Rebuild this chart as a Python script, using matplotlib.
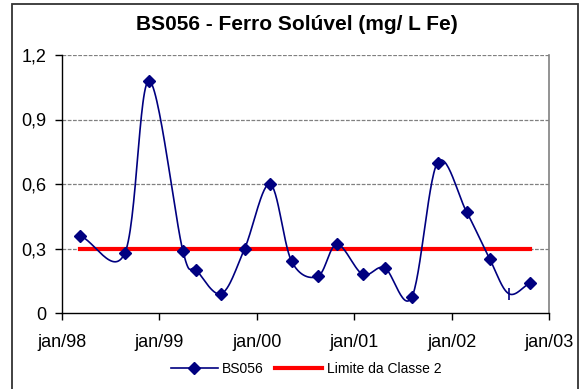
import numpy as np
import matplotlib
matplotlib.use("Agg")
import matplotlib.pyplot as plt
import matplotlib.dates as mdates
from matplotlib.patches import Rectangle
import datetime as dt

plt.rcParams['font.family'] = ['Liberation Sans', 'DejaVu Sans']

title = "BS056 - Ferro Solúvel (mg/ L Fe)"
series_name = "BS056"
limit_name = "Limite da Classe 2"

dates = ["1998-03-09", "1998-08-25", "1998-11-23", "1999-03-30", "1999-05-20",
         "1999-08-22", "1999-11-17", "2000-02-20", "2000-05-11", "2000-08-17",
         "2000-10-28", "2001-02-01", "2001-04-25", "2001-08-05", "2001-11-09",
         "2002-02-26", "2002-05-24", "2002-08-03", "2002-10-22"]
values = [0.36, 0.28, 1.08, 0.29, 0.20, 0.09, 0.30, 0.60, 0.24, 0.17,
          0.32, 0.18, 0.21, 0.075, 0.70, 0.47, 0.25, 0.09, 0.14]
limit_value = 0.3

year_ticks = ["1998-01-01", "1999-01-01", "2000-01-01", "2001-01-01", "2002-01-01", "2003-01-01"]
year_labels = ["jan/98", "jan/99", "jan/00", "jan/01", "jan/02", "jan/03"]
y_ticks = [0, 0.3, 0.6, 0.9, 1.2]
y_labels = ["0", "0,3", "0,6", "0,9", "1,2"]

def to_num(s):
    return mdates.date2num(dt.datetime.strptime(s, "%Y-%m-%d"))

xd = np.array([to_num(d) for d in dates])
yv = np.array(values, dtype=float)

def catmull_rom(x, y, n=30):
    px = np.concatenate([[2*x[0]-x[1]], x, [2*x[-1]-x[-2]]])
    py = np.concatenate([[2*y[0]-y[1]], y, [2*y[-1]-y[-2]]])
    outx, outy = [], []
    t = np.linspace(0, 1, n)
    for i in range(1, len(px)-2):
        p0x, p1x, p2x, p3x = px[i-1], px[i], px[i+1], px[i+2]
        p0y, p1y, p2y, p3y = py[i-1], py[i], py[i+1], py[i+2]
        c1x = p1x + (p2x - p0x)/6; c1y = p1y + (p2y - p0y)/6
        c2x = p2x - (p3x - p1x)/6; c2y = p2y - (p3y - p1y)/6
        bx = (1-t)**3*p1x + 3*(1-t)**2*t*c1x + 3*(1-t)*t**2*c2x + t**3*p2x
        by = (1-t)**3*p1y + 3*(1-t)**2*t*c1y + 3*(1-t)*t**2*c2y + t**3*p2y
        outx.append(bx); outy.append(by)
    return np.concatenate(outx), np.concatenate(outy)

sx, sy = catmull_rom(xd, yv)

fig = plt.figure(figsize=(5.81, 3.89), dpi=100)
ax = fig.add_axes([62/581, 1-313/389, (549-62)/581, (313-55)/389])

navy = "#000080"
ax.plot(sx, sy, color=navy, lw=1.2, zorder=3)
ax.plot(xd[:17], yv[:17], linestyle='none', marker='D', color=navy, ms=6.5, zorder=4)
ax.plot(xd[18:], yv[18:], linestyle='none', marker='D', color=navy, ms=6.5, zorder=4)
ax.plot(xd[17:18], yv[17:18], linestyle='none', marker='|', color=navy, ms=9, mew=1.2, zorder=4)
ax.plot([xd[0], xd[-1]], [limit_value, limit_value], color="#ff0000", lw=3, zorder=2)

# legend proxies
h1, = ax.plot([], [], color=navy, lw=1.2, marker='D', ms=6.5)
h2, = ax.plot([], [], color="#ff0000", lw=3)

ax.set_xlim(to_num(year_ticks[0]), to_num(year_ticks[-1]))
ax.set_ylim(0, 1.2)
ax.set_xticks([to_num(d) for d in year_ticks])
ax.set_xticklabels(year_labels)
ax.set_yticks(y_ticks)
ax.set_yticklabels(y_labels)
ax.tick_params(axis='both', labelsize=13, length=5, width=1, direction='out')
ax.tick_params(axis='y', pad=6)
ax.tick_params(axis='x', pad=10)

for v in y_ticks[1:]:
    ax.axhline(v, color="#808080", lw=0.9, ls=(0, (3, 1.2)), zorder=1)

ax.spines['top'].set_visible(False)
ax.spines['right'].set_color("#808080")
ax.spines['right'].set_linewidth(1.2)
ax.spines['left'].set_linewidth(1.0)
ax.spines['bottom'].set_linewidth(1.0)

fig.text(297/581, 1-24/389, title, ha='center', va='center', fontsize=15, fontweight='bold')

fig.legend([h1, h2], [series_name, limit_name], loc='center', bbox_to_anchor=(306/581, 1-369/389),
           ncol=2, frameon=False, fontsize=10, handlelength=3.4, handletextpad=0.3,
           columnspacing=0.8, borderpad=0)

fig.patches.append(Rectangle((12/581, -0.05), (578-12)/581, 1.05-4/389, transform=fig.transFigure,
                             fill=False, edgecolor="#333333", lw=1.3))

fig.savefig("out.png", dpi=100)
